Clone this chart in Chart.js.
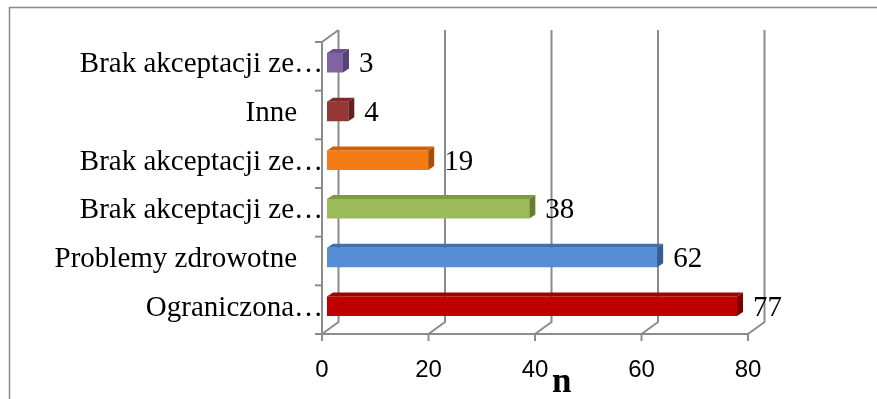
<!DOCTYPE html>
<html>
<head>
<meta charset="utf-8">
<script src="https://cdn.jsdelivr.net/npm/chart.js@4"></script>
<style>
  html, body { margin: 0; padding: 0; background: #fff; }
  #wrap { width: 877px; height: 399px; }
</style>
</head>
<body>
<div id="wrap"><canvas id="c" width="877" height="399"></canvas></div>
<script>
// kategorie od góry do dołu
const categories = [
  'Brak akceptacji ze…',
  'Inne',
  'Brak akceptacji ze…',
  'Brak akceptacji ze…',
  'Problemy zdrowotne',
  'Ograniczona…',
];
const values = [3, 4, 19, 38, 62, 77];
const xTicks = [0, 20, 40, 60, 80];
const axisTitle = 'n';

const frontColors = ['#8064A2', '#953735', '#F47C15', '#9BBB59', '#558ED5', '#C00000'];
const topColors = ['#6A5290', '#7C2B29', '#CF6208', '#7E9B40', '#3F70B0', '#A00000'];
const sideColors = ['#574275', '#63201E', '#A84E06', '#64802F', '#345D94', '#7E0000'];

const GRID = '#8c8c8c';
const SERIF = '"Liberation Serif", "Times New Roman", serif';

/* ── pseudo-3D: ściany, osie, boki słupków, etykiety ── */
const depth = { wallX: 16.5, wallY: -12, barX: 5, barY: -3.5, boxX: 6, boxY: -4 };

const frame3dPlugin = {
  id: 'frame3d',
  beforeDraw(chart) {
    const { ctx } = chart;
    ctx.save();
    ctx.strokeStyle = '#8a8a8a';
    ctx.lineWidth = 1.5;
    ctx.strokeRect(9.5, 7.5, 1000, 1000);
    ctx.restore();
  },
  beforeDatasetsDraw(chart) {
    const { ctx, chartArea: a } = chart;
    const xs = chart.scales.x;
    const ys = chart.scales.y;
    ctx.save();
    ctx.strokeStyle = GRID;
    ctx.lineWidth = 2;
    ctx.lineCap = 'butt';

    // tylna ściana + podłoga
    xTicks.forEach((v) => {
      const fx = xs.getPixelForValue(v);
      const bx = fx + depth.wallX;
      ctx.beginPath();
      ctx.moveTo(bx, a.top + depth.wallY);
      ctx.lineTo(bx, a.bottom + depth.wallY);
      ctx.lineTo(fx, a.bottom);
      ctx.stroke();
    });

    // lewa ściana (przód) i górna krawędź
    const x0 = xs.getPixelForValue(0);
    ctx.beginPath();
    ctx.moveTo(x0 + depth.wallX, a.top + depth.wallY);
    ctx.lineTo(x0, a.top);
    ctx.lineTo(x0, a.bottom);
    ctx.lineTo(xs.getPixelForValue(80), a.bottom);
    ctx.stroke();

    // znaczniki osi X
    xTicks.forEach((v) => {
      const fx = xs.getPixelForValue(v);
      ctx.beginPath();
      ctx.moveTo(fx, a.bottom);
      ctx.lineTo(fx, a.bottom + 7);
      ctx.stroke();
    });

    // znaczniki osi Y (granice kategorii)
    for (let i = 0; i <= categories.length; i++) {
      const y = ys.getPixelForValue(i - 0.5);
      ctx.beginPath();
      ctx.moveTo(x0 - 7, y);
      ctx.lineTo(x0, y);
      ctx.stroke();
    }
    ctx.restore();

    // przesunięcie przednich ścian słupków w głąb
    ctx.save();
    ctx.translate(depth.barX, depth.barY);
  },
  afterDatasetsDraw(chart) {
    const { ctx } = chart;
    ctx.restore();

    const meta = chart.getDatasetMeta(0);
    const xs = chart.scales.x;
    const ys = chart.scales.y;
    ctx.save();
    meta.data.forEach((bar, i) => {
      const { x, y, base, height } = bar.getProps(['x', 'y', 'base', 'height'], true);
      const l = base + depth.barX;
      const r = x + depth.barX;
      const t = y - height / 2 + depth.barY;
      const b = y + height / 2 + depth.barY;
      const dx = depth.boxX;
      const dy = depth.boxY;

      ctx.fillStyle = topColors[i];
      ctx.beginPath();
      ctx.moveTo(l, t);
      ctx.lineTo(r, t);
      ctx.lineTo(r + dx, t + dy);
      ctx.lineTo(l + dx, t + dy);
      ctx.closePath();
      ctx.fill();

      ctx.fillStyle = sideColors[i];
      ctx.beginPath();
      ctx.moveTo(r, t);
      ctx.lineTo(r + dx, t + dy);
      ctx.lineTo(r + dx, b + dy);
      ctx.lineTo(r, b);
      ctx.closePath();
      ctx.fill();

      // etykieta wartości
      ctx.fillStyle = '#000';
      ctx.font = '29px ' + SERIF;
      ctx.textAlign = 'left';
      ctx.textBaseline = 'middle';
      ctx.fillText(String(values[i]), r + 16, y + depth.barY + 2);
    });

    // etykiety kategorii
    const x0 = xs.getPixelForValue(0);
    ctx.font = '29px ' + SERIF;
    ctx.fillStyle = '#000';
    ctx.textAlign = 'right';
    ctx.textBaseline = 'middle';
    categories.forEach((lab, i) => {
      const y = ys.getPixelForValue(i) - 1.5;
      const right = lab.endsWith('…') ? x0 + 1 : x0 - 25;
      ctx.fillText(lab, right, y);
    });

    // tytuł osi
    ctx.font = 'bold 35px ' + SERIF;
    ctx.textAlign = 'center';
    ctx.textBaseline = 'alphabetic';
    ctx.fillText(axisTitle, xs.getPixelForValue(45), 392);
    ctx.restore();
  },
};

new Chart(document.getElementById('c'), {
  type: 'bar',
  data: {
    labels: categories,
    datasets: [{
      data: values,
      backgroundColor: frontColors,
      borderWidth: 0,
      barPercentage: 0.4,
      categoryPercentage: 1,
    }],
  },
  options: {
    indexAxis: 'y',
    responsive: false,
    animation: false,
    devicePixelRatio: 1,
    layout: { padding: { left: 0, top: 42, right: 129, bottom: 0 } },
    plugins: { legend: { display: false }, tooltip: { enabled: false } },
    scales: {
      x: {
        min: 0,
        max: 80,
        afterBuildTicks(scale) { scale.ticks = xTicks.map((v) => ({ value: v })); },
        afterFit(scale) { scale.height = 65; },
        grid: { display: false, drawTicks: false },
        border: { display: false },
        ticks: {
          color: '#000',
          padding: 22,
          font: { family: 'Liberation Sans', size: 24 },
        },
      },
      y: {
        afterFit(scale) { scale.width = 322; },
        grid: { display: false, drawTicks: false },
        border: { display: false },
        ticks: { display: false },
      },
    },
  },
  plugins: [frame3dPlugin],
});
</script>
</body>
</html>
